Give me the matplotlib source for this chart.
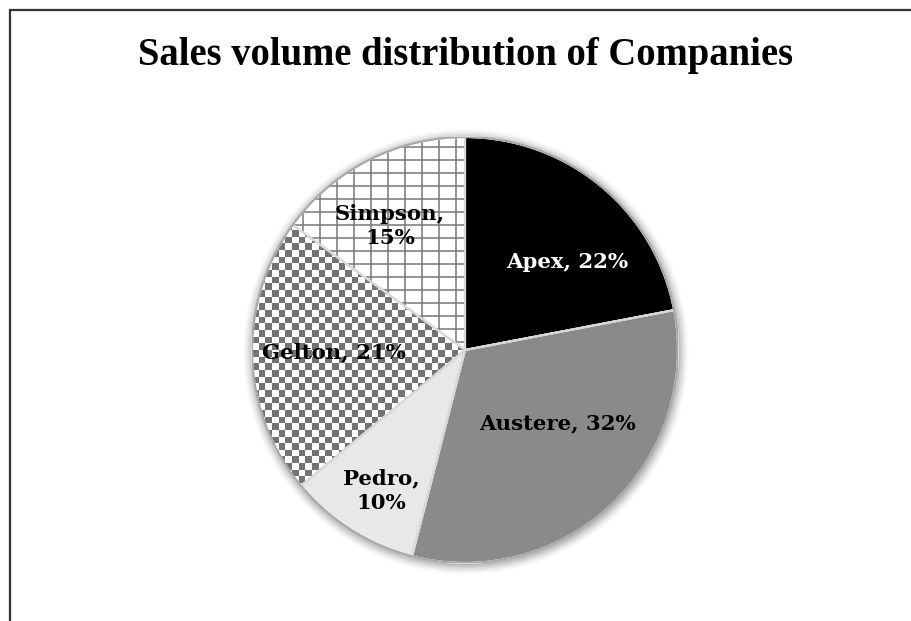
import numpy as np
import matplotlib
matplotlib.use("Agg")
import matplotlib.pyplot as plt
from matplotlib.patches import Rectangle, Circle

companies = ["Apex", "Austere", "Pedro", "Gelton", "Simpson"]
shares = [22, 32, 10, 21, 15]
title = "Sales volume distribution of Companies"

W, H = 912, 621
fig = plt.figure(figsize=(W / 100, H / 100), dpi=100)
fig.patch.set_facecolor("white")

# frame (left + top borders visible)
fig.add_artist(Rectangle((10 / W, -0.1), 1.2, (H - 10) / H + 0.1, transform=fig.transFigure,
                         fill=False, edgecolor="#333333", linewidth=1.6))

cx, cy, r = 465, 350, 213
ax = fig.add_axes([(cx - r) / W, (H - cy - r) / H, 2 * r / W, 2 * r / H])
ax.axis("off")

# soft shadow around the pie
for k, a in zip(np.linspace(1.045, 1.0, 7), [0.02, 0.03, 0.04, 0.05, 0.06, 0.07, 0.08]):
    ax.add_patch(Circle((0.004, -0.008), k, facecolor="#000000", edgecolor="none", alpha=a,
                        zorder=0.5, clip_on=False))

colors = ["#000000", "#8a8a8a", "#e8e8e8", "#ffffff", "#ffffff"]
wedges, _ = ax.pie(shares, startangle=90, counterclock=False, colors=colors, radius=1.0,
                   wedgeprops=dict(edgecolor="#dcdcdc", linewidth=1.5))

# Simpson: grid texture clipped to its wedge
px = 1.0 / r
for xv in np.arange(-1, 1, 17 * px):
    ln = ax.axvline(xv, color="#777777", linewidth=1.1, zorder=1.5)
    ln.set_clip_path(wedges[4])
for yv in np.arange(-1, 1, 13 * px):
    ln = ax.axhline(yv, color="#777777", linewidth=1.1, zorder=1.5)
    ln.set_clip_path(wedges[4])

# Gelton: checkerboard texture clipped to its wedge
n = 64
yy, xx = np.mgrid[0:n, 0:n]
checker = ((xx + yy) % 2).astype(float)
im = ax.imshow(checker, cmap=matplotlib.colors.ListedColormap(["#737373", "#ffffff"]),
               extent=[-1, 1, -1, 1], interpolation="nearest", zorder=1.5)
im.set_clip_path(wedges[3])

# slice separators and outer rim
ax.pie(shares, startangle=90, counterclock=False, colors=["none"] * len(shares), radius=1.0,
       wedgeprops=dict(edgecolor="#d8d8d8", linewidth=1.5, fill=False, zorder=2))
ax.add_patch(Circle((0, 0), 1.0, fill=False, edgecolor="#a8a8a8", linewidth=1.5, zorder=3))

ax.set_xlim(-1, 1)
ax.set_ylim(-1, 1)
ax.set_aspect("equal")

lab_font = dict(family="DejaVu Serif", fontweight="bold", fontsize=15.3)
label_pos = [(0.479, 0.413), (0.432, -0.343), (-0.394, -0.662), (-0.615, -0.009), (-0.352, 0.582)]
label_txt = [f"{companies[0]}, {shares[0]}%", f"{companies[1]}, {shares[1]}%",
             f"{companies[2]},\n{shares[2]}%", f"{companies[3]}, {shares[3]}%",
             f"{companies[4]},\n{shares[4]}%"]
label_col = ["white", "black", "black", "black", "black"]
for (x, y), t, c in zip(label_pos, label_txt, label_col):
    ax.text(x, y, t, ha="center", va="center", color=c, linespacing=1.3, zorder=5, **lab_font)

fig.text(466 / W, 1 - 56 / H, title, ha="center", va="center", family="Liberation Serif",
         fontweight="bold", fontsize=27.8)

fig.savefig("out.png", dpi=100)
